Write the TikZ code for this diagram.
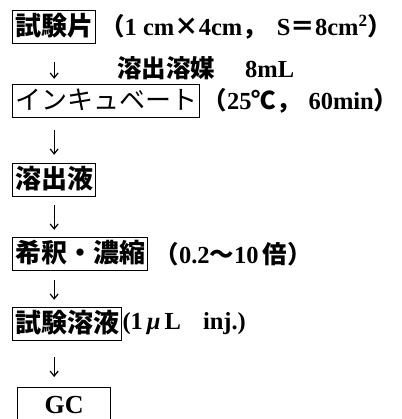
\documentclass[tikz,border=0pt]{standalone}
\usepackage{fontspec}
\setmainfont{Liberation Serif}
\newfontfamily\jp{Noto Sans CJK JP}
\usetikzlibrary{arrows.meta}
\begin{document}
\begin{tikzpicture}[x=1pt,y=-1pt,
  box/.style={draw, line width=1.3pt, inner xsep=2.5pt, inner ysep=3pt,
    font=\jp\bfseries\fontsize{26}{26}\selectfont, text height=22pt, text depth=5pt},
  lbl/.style={font=\bfseries\fontsize{24.5}{24.5}\selectfont, inner sep=0pt, anchor=west},
  arr/.style={-{Straight Barb[length=5pt,width=8pt]}, line width=1.2pt}]
\useasboundingbox (0,0) rectangle (401,419);
\node[box, anchor=west] (b1) at (12,27) {試験片};
\node[lbl] (t1) at (100,27) {{\jp （}1 cm{\jp ×}4cm{\jp ，}\hspace{10pt}S{\jp ＝}8cm\textsuperscript{2}{\jp ）}};
\node[lbl] (t2) at (117,68) {{\jp\bfseries 溶出溶媒}\hspace{30pt}8mL};
\node[box, anchor=west, font=\jp\fontsize{26}{26}\selectfont] (b2) at (12,101) {インキュベート};
\node[lbl, anchor=west] (t3) at ([xshift=2pt]b2.east) {{\jp （}25{\jp ℃}{\jp ，}\hspace{8pt}60min{\jp ）}};
\node[box, anchor=west] (b3) at (12,180) {溶出液};
\node[box, anchor=west] (b4) at (12,254) {希釈・濃縮};
\node[lbl, anchor=west] (t4) at ([xshift=6pt]b4.east) {{\jp （}0.2{\jp 〜}10\,{\jp 倍）}};
\node[box, anchor=west] (b5) at (12,324) {試験溶液};
\node[lbl, anchor=west] (t5) at ([xshift=0pt]b5.east) {(1\,{\itshape μ}\,L\hspace{22pt}inj.)};
\node[draw, line width=1.3pt, anchor=north west, minimum width=93pt, minimum height=50pt] (b6) at (17,387) {};
\node[font=\bfseries\fontsize{26}{26}\selectfont, anchor=north, inner sep=0pt] (gc) at ([yshift=-9pt]b6.north) {GC};
\draw[arr, shorten <=18pt, shorten >=5pt] (b1.south) -- (b1.south |- b2.north);
\draw[arr, shorten <=12pt, shorten >=8pt] (b1.south |- b2.south) -- (b1.south |- b3.north);
\draw[arr, shorten <=8pt, shorten >=7pt] (b1.south |- b3.south) -- (b1.south |- b4.north);
\draw[arr, shorten <=9pt, shorten >=7pt] (b1.south |- b4.south) -- (b1.south |- b5.north);
\draw[arr, shorten <=16pt, shorten >=10pt] (b1.south |- b5.south) -- (b1.south |- b6.north);
\end{tikzpicture}
\end{document}
